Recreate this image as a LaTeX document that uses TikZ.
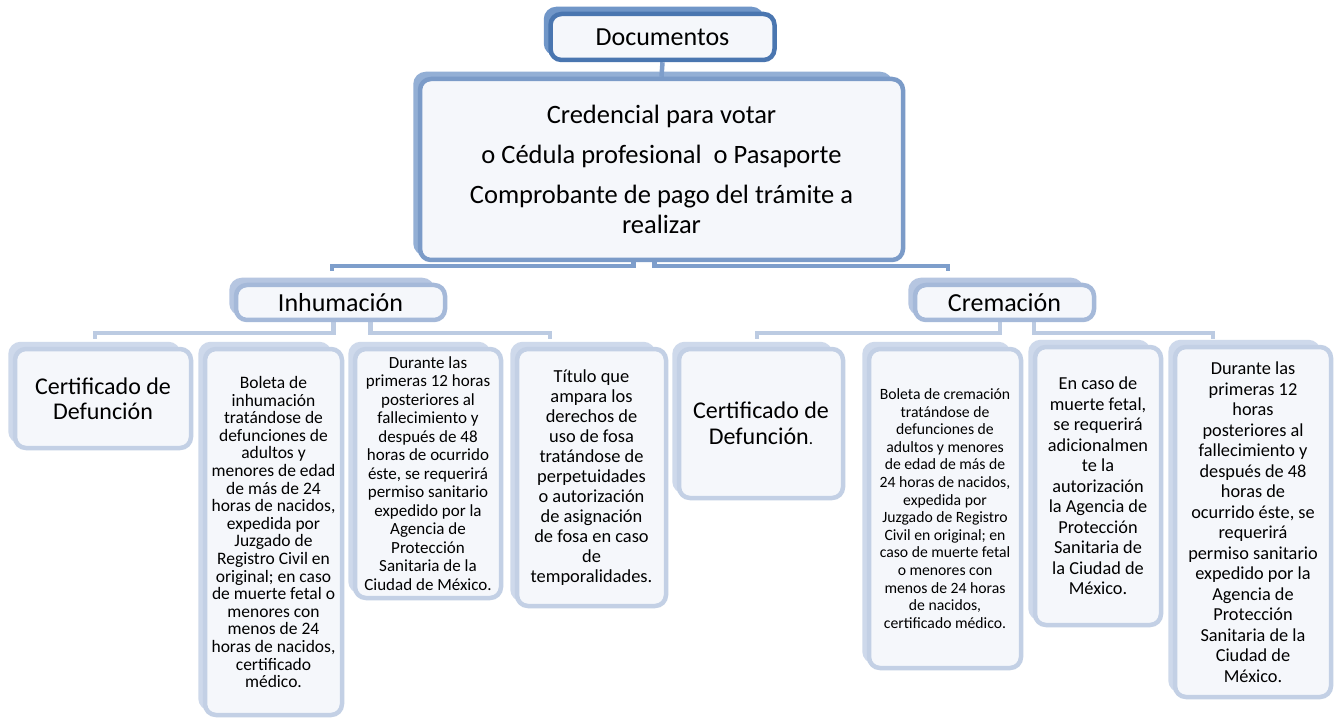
\documentclass[tikz,border=0pt]{standalone}
\usepackage{fontspec}
\setmainfont{Carlito}
\usetikzlibrary{backgrounds}
\pgfdeclarelayer{bottom}
\pgfsetlayers{bottom,background,main}
\definecolor{docb}{HTML}{4A76B0}
\definecolor{docback}{HTML}{7096C8}
\definecolor{mainb}{HTML}{7B9BC8}
\definecolor{mainback}{HTML}{93AFD5}
\definecolor{lvtwo}{HTML}{A5B9D9}
\definecolor{lvtwoback}{HTML}{B6C6E1}
\definecolor{lvthree}{HTML}{C3D0E5}
\definecolor{lvthreeback}{HTML}{CED9EB}
\definecolor{linkone}{HTML}{7E9ECB}
\definecolor{linktwo}{HTML}{BCCBE2}
\definecolor{fillB}{HTML}{F5F7FB}
\tikzset{
  frontbox/.style={draw=#1, line width=4.5pt, rounded corners=11pt, fill=fillB,
    inner sep=0pt, align=center, text=black},
  backbox/.style={draw=#1, line width=3pt, rounded corners=11pt, fill=#1},
  linkA/.style={draw=linkone, line width=4.5pt},
  linkB/.style={draw=linktwo, line width=4.5pt},
}
\newcommand\fsz[2]{\fontsize{#1}{#2}\selectfont}
\newcommand\backof[2]{\draw[backbox=#2] ([shift={(-3,-3.5)}]#1.north west) rectangle ([shift={(-14,-8)}]#1.south east);}
\begin{document}
\begin{tikzpicture}[x=1pt,y=-1pt]
\begin{pgfonlayer}{bottom}
\fill[white] (0,0) rectangle (1336,719);
\end{pgfonlayer}
\useasboundingbox (0,0) rectangle (1336,719);

% level 0 and 1
\node[frontbox=docb, minimum width=224pt, minimum height=46pt, font=\fsz{26}{30}] (doc) at (662.5,37) {Documentos};
\node[frontbox=mainb, minimum width=483pt, minimum height=181pt, font=\fsz{26.5}{30}] (main) at (661.5,169.5)
  {Credencial para votar\\[10pt] o Cédula profesional\ \ o Pasaporte\\[10pt] Comprobante de pago del trámite a\\ realizar};

% level 2
\node[frontbox=lvtwo, minimum width=209pt, minimum height=35pt, font=\fsz{26}{30}] (inh) at (340.5,302.5) {Inhumación};
\node[frontbox=lvtwo, minimum width=179pt, minimum height=35pt, font=\fsz{26}{30}] (crem) at (1004.5,302.5) {Cremación};

% level 3
\node[frontbox=lvthree, minimum width=176pt, minimum height=99pt, font=\fsz{24}{25}] (b1) at (103,398.5)
  {Certificado de\\ Defunción};
\node[frontbox=lvthree, minimum width=137pt, minimum height=366pt, font=\fsz{17.5}{17.6}] (b2) at (273.5,532)
  {Boleta de\\ inhumación\\ tratándose de\\ defunciones de\\ adultos y\\ menores de edad\\ de más de 24\\ horas de nacidos,\\ expedida por\\ Juzgado de\\ Registro Civil en\\ original; en caso\\ de muerte fetal o\\ menores con\\ menos de 24\\ horas de nacidos,\\ certificado\\ médico.};
\node[frontbox=lvthree, minimum width=146pt, minimum height=249pt, font=\fsz{17}{18.5}] (b3) at (428,473.5)
  {Durante las\\ primeras 12 horas\\ posteriores al\\ fallecimiento y\\ después de 48\\ horas de ocurrido\\ éste, se requerirá\\ permiso sanitario\\ expedido por la\\ Agencia de\\ Protección\\ Sanitaria de la\\ Ciudad de México.};
\node[frontbox=lvthree, minimum width=149pt, minimum height=257pt, font=\fsz{18.4}{20}] (b4) at (591.5,477.5)
  {Título que\\ ampara los\\ derechos de\\ uso de fosa\\ tratándose de\\ perpetuidades\\ o autorización\\ de asignación\\ de fosa en caso\\ de\\ temporalidades.};
\node[frontbox=lvthree, minimum width=164pt, minimum height=149pt, font=\fsz{24}{26}] (b5) at (761,423.5)
  {Certificado de\\ Defunción{\fsz{17}{26}.}};
\node[frontbox=lvthree, minimum width=152pt, minimum height=319pt, font=\fsz{15.7}{17.6}] (b6) at (945,508.5)
  {Boleta de cremación\\ tratándose de\\ defunciones de\\ adultos y menores\\ de edad de más de\\ 24 horas de nacidos,\\ expedida por\\ Juzgado de Registro\\ Civil en original; en\\ caso de muerte fetal\\ o menores con\\ menos de 24 horas\\ de nacidos,\\ certificado médico.};
\node[frontbox=lvthree, minimum width=126pt, minimum height=278pt, font=\fsz{18.3}{20.5}] (b7) at (1098,486)
  {En caso de\\ muerte fetal,\\ se requerirá\\ adicionalmen\\ te la\\ autorización\\ la Agencia de\\ Protección\\ Sanitaria de\\ la Ciudad de\\ México.};
\node[frontbox=lvthree, minimum width=156pt, minimum height=350pt, font=\fsz{18.3}{20.5}] (b8) at (1253,522)
  {Durante las\\ primeras 12\\ horas\\ posteriores al\\ fallecimiento y\\ después de 48\\ horas de\\ ocurrido éste, se\\ requerirá\\ permiso sanitario\\ expedido por la\\ Agencia de\\ Protección\\ Sanitaria de la\\ Ciudad de\\ México.};

% junction coordinates
\coordinate (jl) at (332,266);
\coordinate (jr) at (948,266);
\coordinate (il) at (95,333);
\coordinate (ir) at (550,333);
\coordinate (cl) at (757,333);
\coordinate (cr) at (1213,333);

\begin{scope}[on background layer]
  \backof{doc}{docback}
  \backof{main}{mainback}
  \backof{inh}{lvtwoback}
  \backof{crem}{lvtwoback}
  \foreach \n in {b1,b2,b3,b4,b5,b6,b7,b8} {\backof{\n}{lvthreeback}}
  % connectors
  \draw[linkA] (doc.south) -- (main.north);
  \draw[linkA] ([xshift=-28pt]main.south) |- (jl) -- ++(0,5);
  \draw[linkA] ([xshift=-7pt]main.south) |- (jr) -- ++(0,5);
  \draw[linkB] ([xshift=-7pt]inh.south) |- (il) -- ++(0,6);
  \draw[linkB] ([xshift=30pt]inh.south) |- (ir) -- ++(0,6);
  \draw[linkB] ([xshift=-4.5pt]crem.south) |- (cl) -- ++(0,6);
  \draw[linkB] ([xshift=29.5pt]crem.south) |- (cr) -- ++(0,6);
\end{scope}
\end{tikzpicture}
\end{document}
